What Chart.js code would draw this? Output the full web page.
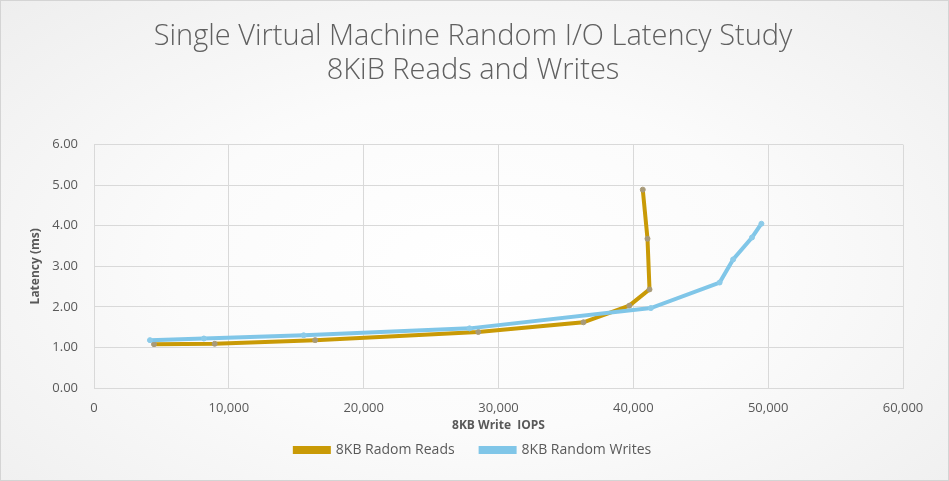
<!DOCTYPE html>
<html>
<head>
<meta charset="utf-8">
<script src="https://cdn.jsdelivr.net/npm/chart.js@4/dist/chart.umd.min.js"></script>
<style>
  html, body { margin: 0; padding: 0; background: #ffffff; }
  #wrap {
    position: absolute; left: 0; top: 0; width: 947px; height: 479px;
    border: 1px solid #d4d4d4;
    background: radial-gradient(ellipse at 50% 55%, #ffffff 0%, #fbfbfb 45%, #eeeeee 100%);
  }
  canvas { display: block; }
</style>
</head>
<body>
<div id="wrap"><canvas id="c" width="947" height="479"></canvas></div>
<script>
const titleLines = ["Single Virtual Machine Random I/O Latency Study", "8KiB Reads and Writes"];
const readsLabel = "8KB Radom Reads";
const writesLabel = "8KB Random Writes";
const xAxisTitle = "8KB Write  IOPS";
const yAxisTitle = "Latency (ms)";

const readsIops = [4450, 8950, 16400, 28500, 36300, 39700, 41200, 41050, 40700];
const readsLatency = [1.08, 1.09, 1.18, 1.38, 1.62, 2.03, 2.43, 3.68, 4.89];
const writesIops = [4150, 8150, 15550, 27850, 41300, 46400, 47400, 48800, 49500];
const writesLatency = [1.18, 1.22, 1.30, 1.47, 1.97, 2.60, 3.17, 3.71, 4.05];

const xTicks = [0, 10000, 20000, 30000, 40000, 50000, 60000];
const yTicks = [0, 1, 2, 3, 4, 5, 6];

const toPoints = (xs, ys) => xs.map((x, i) => ({ x: x, y: ys[i] }));

const gold = '#C99A06';
const blue = '#80C6E8';
const textGray = '#595959';
const gridGray = '#d9d9d9';

new Chart(document.getElementById('c'), {
  type: 'scatter',
  data: {
    datasets: [
      {
        label: readsLabel,
        data: toPoints(readsIops, readsLatency),
        showLine: true,
        borderColor: gold,
        backgroundColor: gold,
        borderWidth: 4,
        pointRadius: 2.5,
        pointBackgroundColor: '#a89a78',
        pointBorderColor: '#a89a78',
        pointBorderWidth: 1,
        tension: 0,
        order: 1
      },
      {
        label: writesLabel,
        data: toPoints(writesIops, writesLatency),
        showLine: true,
        borderColor: blue,
        backgroundColor: blue,
        borderWidth: 4,
        pointRadius: 2.5,
        pointBackgroundColor: '#8ccbe9',
        pointBorderColor: '#8ccbe9',
        pointBorderWidth: 1,
        tension: 0,
        order: 0
      }
    ]
  },
  options: {
    responsive: false,
    animation: false,
    layout: { padding: { left: 42, right: 45, top: 0, bottom: 13 } },
    plugins: {
      tooltip: { enabled: false },
      title: {
        display: true,
        text: titleLines,
        color: '#606060',
        font: { family: "'Open Sans', sans-serif", size: 29, weight: '300', lineHeight: 1.2 },
        padding: { top: 18, bottom: 56 }
      },
      legend: {
        display: true,
        position: 'bottom',
        labels: {
          color: textGray,
          font: { family: "'Open Sans', sans-serif", size: 14 },
          boxWidth: 34,
          boxHeight: 4,
          padding: 26,
          sort: (a, b) => a.datasetIndex - b.datasetIndex
        }
      }
    },
    scales: {
      x: {
        type: 'linear',
        min: 0,
        max: 60000,
        afterBuildTicks: (scale) => { scale.ticks = xTicks.map(v => ({ value: v })); },
        afterFit: (scale) => { scale.height = 29; },
        ticks: {
          color: textGray,
          font: { family: "'Open Sans', sans-serif", size: 13 },
          padding: 12,
          maxRotation: 0,
          callback: (v) => v.toLocaleString('en-US')
        },
        grid: { color: gridGray, lineWidth: 1, drawTicks: false },
        border: { color: gridGray },
        title: {
          display: true,
          text: xAxisTitle,
          color: textGray,
          font: { family: "'Open Sans', sans-serif", size: 12, weight: 'bold', lineHeight: 1 },
          padding: { top: 0, bottom: -15 }
        }
      },
      y: {
        type: 'linear',
        min: 0,
        max: 6,
        afterBuildTicks: (scale) => { scale.ticks = yTicks.map(v => ({ value: v })); },
        afterFit: (scale) => { scale.width = 51; },
        ticks: {
          color: textGray,
          font: { family: "'Open Sans', sans-serif", size: 13 },
          padding: 16,
          callback: (v) => Number(v).toFixed(2)
        },
        grid: { color: gridGray, lineWidth: 1, drawTicks: false },
        border: { color: gridGray },
        title: {
          display: true,
          text: yAxisTitle,
          color: textGray,
          font: { family: "'Open Sans', sans-serif", size: 12, weight: 'bold' },
          padding: { top: -15, bottom: 4 }
        }
      }
    }
  }
});
</script>
</body>
</html>
